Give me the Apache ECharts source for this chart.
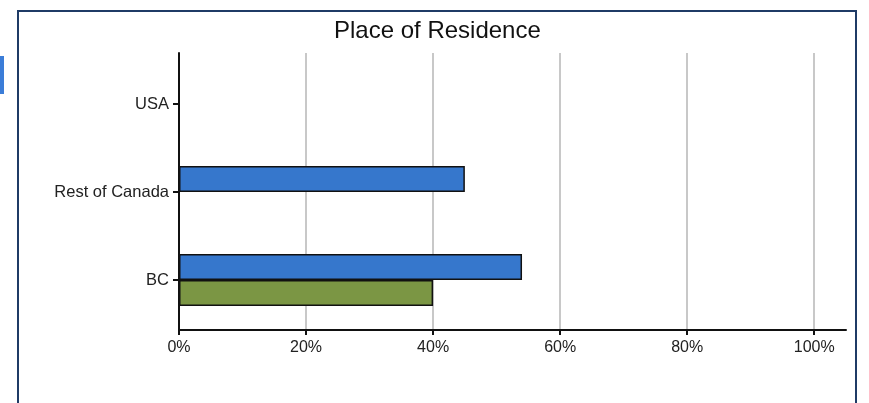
<!DOCTYPE html>
<html>
<head>
<meta charset="utf-8">
<script src="https://cdn.jsdelivr.net/npm/echarts@6/dist/echarts.min.js"></script>
<style>
html,body{margin:0;padding:0;background:#fff;}
#c{width:869px;height:403px;}
</style>
</head>
<body>
<div id="c"></div>
<script>
var categories = ['BC', 'Rest of Canada', 'USA'];
var seriesBlue = [54, 45, 0];
var seriesGreen = [40, 0, 0];
var tickValues = [0, 20, 40, 60, 80, 100];

var chart = echarts.init(document.getElementById('c'), null, {renderer: 'canvas'});
var font = '"Liberation Sans", Arial, Helvetica, sans-serif';
chart.setOption({
  animation: false,
  backgroundColor: '#fff',
  title: {
    text: 'Place of Residence',
    left: 329,
    top: 14,
    textStyle: {fontSize: 24, fontWeight: 'normal', color: '#111', fontFamily: font}
  },
  graphic: [
    {type: 'rect', shape: {x: 18, y: 11, width: 838, height: 420},
     style: {fill: 'none', stroke: '#1f3b66', lineWidth: 2}},
    {type: 'rect', shape: {x: 0, y: 56, width: 4, height: 38},
     style: {fill: '#3b7dd8'}}
  ],
  grid: [
    {left: 179, right: 23, top: 53, bottom: 73},
    {left: 179, right: 23, top: 60, bottom: 79}
  ],
  xAxis: [
    {
      type: 'value', gridIndex: 0, min: 0, max: 105,
      axisLine: {show: true, lineStyle: {color: '#111', width: 2}},
      axisTick: {show: true, length: 5, lineStyle: {color: '#111', width: 2}, customValues: tickValues},
      axisLabel: {customValues: tickValues, formatter: '{value}%', fontSize: 16, color: '#222', margin: 10, fontFamily: font},
      splitLine: {show: true, lineStyle: {color: '#c8c8c8', width: 2}}
    },
    {type: 'value', gridIndex: 1, min: 0, max: 105, show: false}
  ],
  yAxis: [
    {
      type: 'value', gridIndex: 0, min: 0, max: 1,
      axisLine: {show: true, lineStyle: {color: '#111', width: 2}},
      axisTick: {show: false}, axisLabel: {show: false}, splitLine: {show: false}
    },
    {
      type: 'category', gridIndex: 1, data: categories,
      axisLine: {show: false},
      axisTick: {show: true, alignWithLabel: true, length: 6, lineStyle: {color: '#111', width: 2}},
      axisLabel: {fontSize: 16.5, color: '#222', margin: 10, padding: [3, 0, 0, 0], fontFamily: font},
      splitLine: {show: false}
    }
  ],
  series: [
    {type: 'bar', xAxisIndex: 1, yAxisIndex: 1, data: seriesBlue, barWidth: 26, barGap: '0%',
     itemStyle: {color: '#3677cc', borderColor: '#111', borderWidth: 1.5}},
    {type: 'bar', xAxisIndex: 1, yAxisIndex: 1, data: seriesGreen, barWidth: 26, barGap: '0%',
     itemStyle: {color: '#7b9644', borderColor: '#111', borderWidth: 1.5}}
  ]
});
</script>
</body>
</html>
